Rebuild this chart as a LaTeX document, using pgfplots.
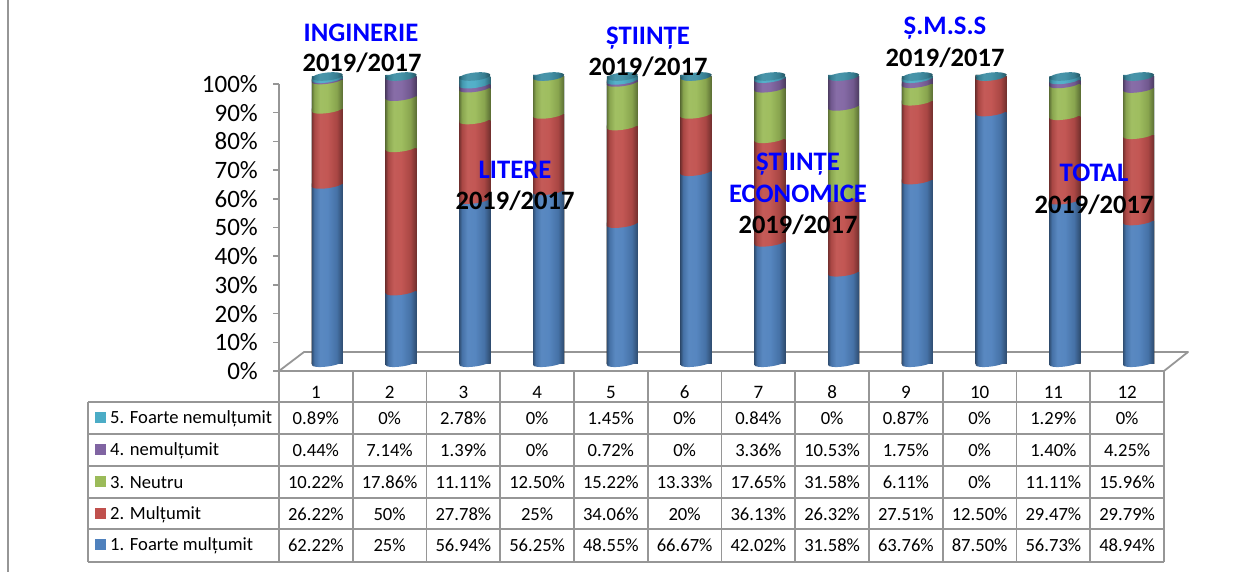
\documentclass[border=0pt]{standalone}
\usepackage{fontspec}
\setmainfont{Carlito}
\usepackage{pgfplots}
\usepackage{pgfplotstable}
\pgfplotsset{compat=1.18}

\definecolor{gridgray}{RGB}{150,150,150}
\definecolor{cblue}{RGB}{79,129,189}
\definecolor{cred}{RGB}{192,80,77}
\definecolor{cgreen}{RGB}{155,187,89}
\definecolor{cviolet}{RGB}{128,100,162}
\definecolor{ccyan}{RGB}{75,172,198}
\definecolor{ccap}{RGB}{62,142,164}
\definecolor{lblblue}{RGB}{0,0,255}

% cylinder look: dark edges, light middle
% (pgf maps 25bp..75bp of a shading onto the width of the path)
\newcommand{\cylshadeonly}[2]{%
  \pgfdeclarehorizontalshading{#1}{100bp}{%
    color(0bp)=(#2!62!black);
    color(25bp)=(#2!62!black);
    color(29bp)=(#2!88!black);
    color(38bp)=(#2!94!white);
    color(50bp)=(#2!96!white);
    color(65bp)=(#2!88!black);
    color(75bp)=(#2!58!black);
    color(100bp)=(#2!58!black)}%
}
\newcommand{\cylshade}[2]{%
  \cylshadeonly{#1}{#2}%
  % front arc of the slice, rising a little to the right;
  % its top reaches over the edge of the bar below, to leave no seam
  \pgfdeclareplotmark{#1}{%
    \pgfpathmoveto{\pgfqpoint{-15.5pt}{1.5pt}}%
    \pgfpathlineto{\pgfqpoint{-15.5pt}{-2pt}}%
    \pgfpathcurveto{\pgfqpoint{-15.5pt}{-3.93pt}}{\pgfqpoint{-8.56pt}{-4.61pt}}{\pgfqpoint{0pt}{-3.5pt}}%
    \pgfpathcurveto{\pgfqpoint{8.56pt}{-2.39pt}}{\pgfqpoint{15.5pt}{0.07pt}}{\pgfqpoint{15.5pt}{2pt}}%
    \pgfpathclose
    \pgfshadepath{#1}{0}%
    \pgfusepath{discard}}%
}
\cylshade{cylblue}{cblue}
\cylshade{cylred}{cred}
\cylshade{cylgreen}{cgreen}
\cylshade{cylviolet}{cviolet}
\cylshade{cylcyan}{ccyan}
\cylshadeonly{cylcapshade}{ccap}
\pgfdeclareplotmark{cylcap}{%
  \pgftransformcm{1}{0.1}{0}{1}{\pgfpointorigin}%
  \pgfpathellipse{\pgfpointorigin}{\pgfqpoint{15.5pt}{0pt}}{\pgfqpoint{0pt}{4pt}}%
  \pgfshadepath{cylcapshade}{0}%
  \pgfusepath{discard}}

% values as printed in the chart's table
\pgfplotstableread{
c fm    mu    ne    nm    fn
1 62.22 26.22 10.22 0.44  0.89
2 25    50    17.86 7.14  0
3 56.94 27.78 11.11 1.39  2.78
4 56.25 25    12.50 0     0
5 48.55 34.06 15.22 0.72  1.45
6 66.67 20    13.33 0     0
7 42.02 36.13 17.65 3.36  0.84
8 31.58 26.32 31.58 10.53 0
9 63.76 27.51 6.11  1.75  0.87
10 87.50 12.50 0    0     0
11 56.73 29.47 11.11 1.40 1.29
12 48.94 29.79 15.96 4.25 0
}\data

% columns are drawn as 100% stacks
\newcommand{\tot}{(\thisrow{fm}+\thisrow{mu}+\thisrow{ne}+\thisrow{nm}+\thisrow{fn})}

% one plot per column, so that each bar gets its own shading
\newcommand{\cylbars}[2]{%
  \pgfplotsinvokeforeach{1,...,12}{%
    \addplot[ybar,bar shift=0pt,bar width=31pt,draw=none,shade,shading=#1,
      x filter/.expression={x==##1 ? x : nan}]
      table[x=c,y expr=100*(#2)/\tot] {\data};
  }%
}

\begin{document}
\begin{tikzpicture}
\path[use as bounding box] (0pt,0pt) rectangle (1241pt,-572pt);
\draw[gridgray,line width=1.5pt] (8pt,0pt) -- (8pt,-572pt);

% value axis
\begin{axis}[
    at={(279pt,-371pt)}, anchor=south west,
    scale only axis, width=885pt, height=287pt,
    xmin=0.5, xmax=12.5, ymin=0, ymax=100,
    axis y line=left, axis x line=none,
    axis line style={gridgray,line width=1.5pt,-},
    ytick={0,10,...,100},
    tick style={gridgray,line width=1.5pt},
    major tick length=6pt,
    tick align=outside,
    /pgf/number format/assume math mode=true,
    yticklabel={\pgfmathprintnumber{\tick}\%},
    yticklabel style={font=\fontsize{25}{27}\selectfont,text=black,inner sep=0pt,xshift=-15pt},
]
\addplot[draw=none,forget plot] coordinates {(1,0)};
\end{axis}

% floor
\begin{scope}[x=1pt,y=-1pt]
\draw[gridgray,line width=1.8pt,line join=round] (279,371) -- (304,352) -- (1188,352) -- (1164,371) -- cycle;
\end{scope}

% bars, tallest slice first
\begin{axis}[
    at={(290.5pt,-363pt)}, anchor=south west,
    scale only axis, width=885pt, height=286.5pt,
    xmin=0.5, xmax=12.5, ymin=0, ymax=100,
    hide axis, clip=false,
]
\cylbars{cylcyan}{\thisrow{fm}+\thisrow{mu}+\thisrow{ne}+\thisrow{nm}+\thisrow{fn}}
\cylbars{cylviolet}{\thisrow{fm}+\thisrow{mu}+\thisrow{ne}+\thisrow{nm}}
\cylbars{cylgreen}{\thisrow{fm}+\thisrow{mu}+\thisrow{ne}}
\cylbars{cylred}{\thisrow{fm}+\thisrow{mu}}
\cylbars{cylblue}{\thisrow{fm}}
\end{axis}

% slice edges and top caps
\begin{axis}[
    at={(290.5pt,-363pt)}, anchor=south west,
    scale only axis, width=885pt, height=286.5pt,
    xmin=0.5, xmax=12.5, ymin=0, ymax=100,
    hide axis, clip=false,
]
\addplot[only marks,mark=cylblue] table[x=c,y expr=0] {\data};
\addplot[only marks,mark=cylred] table[x=c,y expr=100*\thisrow{fm}/\tot] {\data};
\addplot[only marks,mark=cylgreen] table[x=c,y expr=100*(\thisrow{fm}+\thisrow{mu})/\tot] {\data};
\addplot[only marks,mark=cylviolet] table[x=c,y expr=100*(\thisrow{fm}+\thisrow{mu}+\thisrow{ne})/\tot] {\data};
\addplot[only marks,mark=cylcyan] table[x=c,y expr=100*(\thisrow{fm}+\thisrow{mu}+\thisrow{ne}+\thisrow{nm})/\tot] {\data};
\addplot[only marks,mark=cylcap] table[x=c,y expr=100] {\data};
\end{axis}

\begin{scope}[x=1pt,y=-1pt]
% table grid
\foreach \i in {0,...,12}
  \draw[gridgray,line width=1.8pt] ({279+73.75*\i},371) -- ({279+73.75*\i},562);
\foreach \y in {402,434,466,498,529,562}
  \draw[gridgray,line width=1.8pt] (88,\y) -- (1164,\y);
\draw[gridgray,line width=1.8pt] (88,402) -- (88,562);

\foreach \i in {1,...,12}
  \node[font=\fontsize{19}{21}\selectfont,inner sep=0pt] at ({279+73.75*(\i-0.5)},392) {\i};

% row heads
\foreach \y/\col/\name in {418/ccyan/5. Foarte nemulțumit,450/cviolet/4. nemulțumit,482/cgreen/3. Neutru,514/cred/2. Mulțumit,545/cblue/1. Foarte mulțumit}{
  \fill[\col] (95,\y-6) rectangle (106,\y+5);
  \node[anchor=west,inner sep=0pt,font=\fontsize{18.6}{20}\selectfont] at (110,\y+0.5) {\name};
}

% cells, read from the data table
\foreach \y/\cname in {418/fn,450/nm,482/ne,514/mu,545/fm}
  \foreach \r in {0,...,11}{
    \pgfplotstablegetelem{\r}{\cname}\of\data
    \node[font=\fontsize{18.6}{21}\selectfont,inner sep=0pt] at ({279+73.75*(\r+0.5)},\y) {\pgfplotsretval\%};
  }

% faculty labels over the columns
\tikzset{fac/.style={font=\fontsize{26.7}{28}\selectfont\bfseries,text=lblblue,inner sep=0pt},
         per/.style={font=\fontsize{26.5}{28}\selectfont\bfseries,text=black,inner sep=0pt}}
\node[fac] at (361,33) {INGINERIE};
\node[per] at (362,63) {2019/2017};
\node[fac] at (648,38) {ȘTIINȚE};
\node[per] at (648,67) {2019/2017};
\node[fac] at (515,170) {LITERE};
\node[per] at (515,201) {2019/2017};
\node[fac] at (798,164) {ȘTIINȚE};
\node[fac] at (798,194) {ECONOMICE};
\node[per] at (798,225) {2019/2017};
\node[fac] at (945,28) {Ș.M.S.S};
\node[per] at (945,58) {2019/2017};
\node[fac] at (1094,173) {TOTAL};
\node[per] at (1094,205) {2019/2017};
\end{scope}
\end{tikzpicture}
\end{document}
